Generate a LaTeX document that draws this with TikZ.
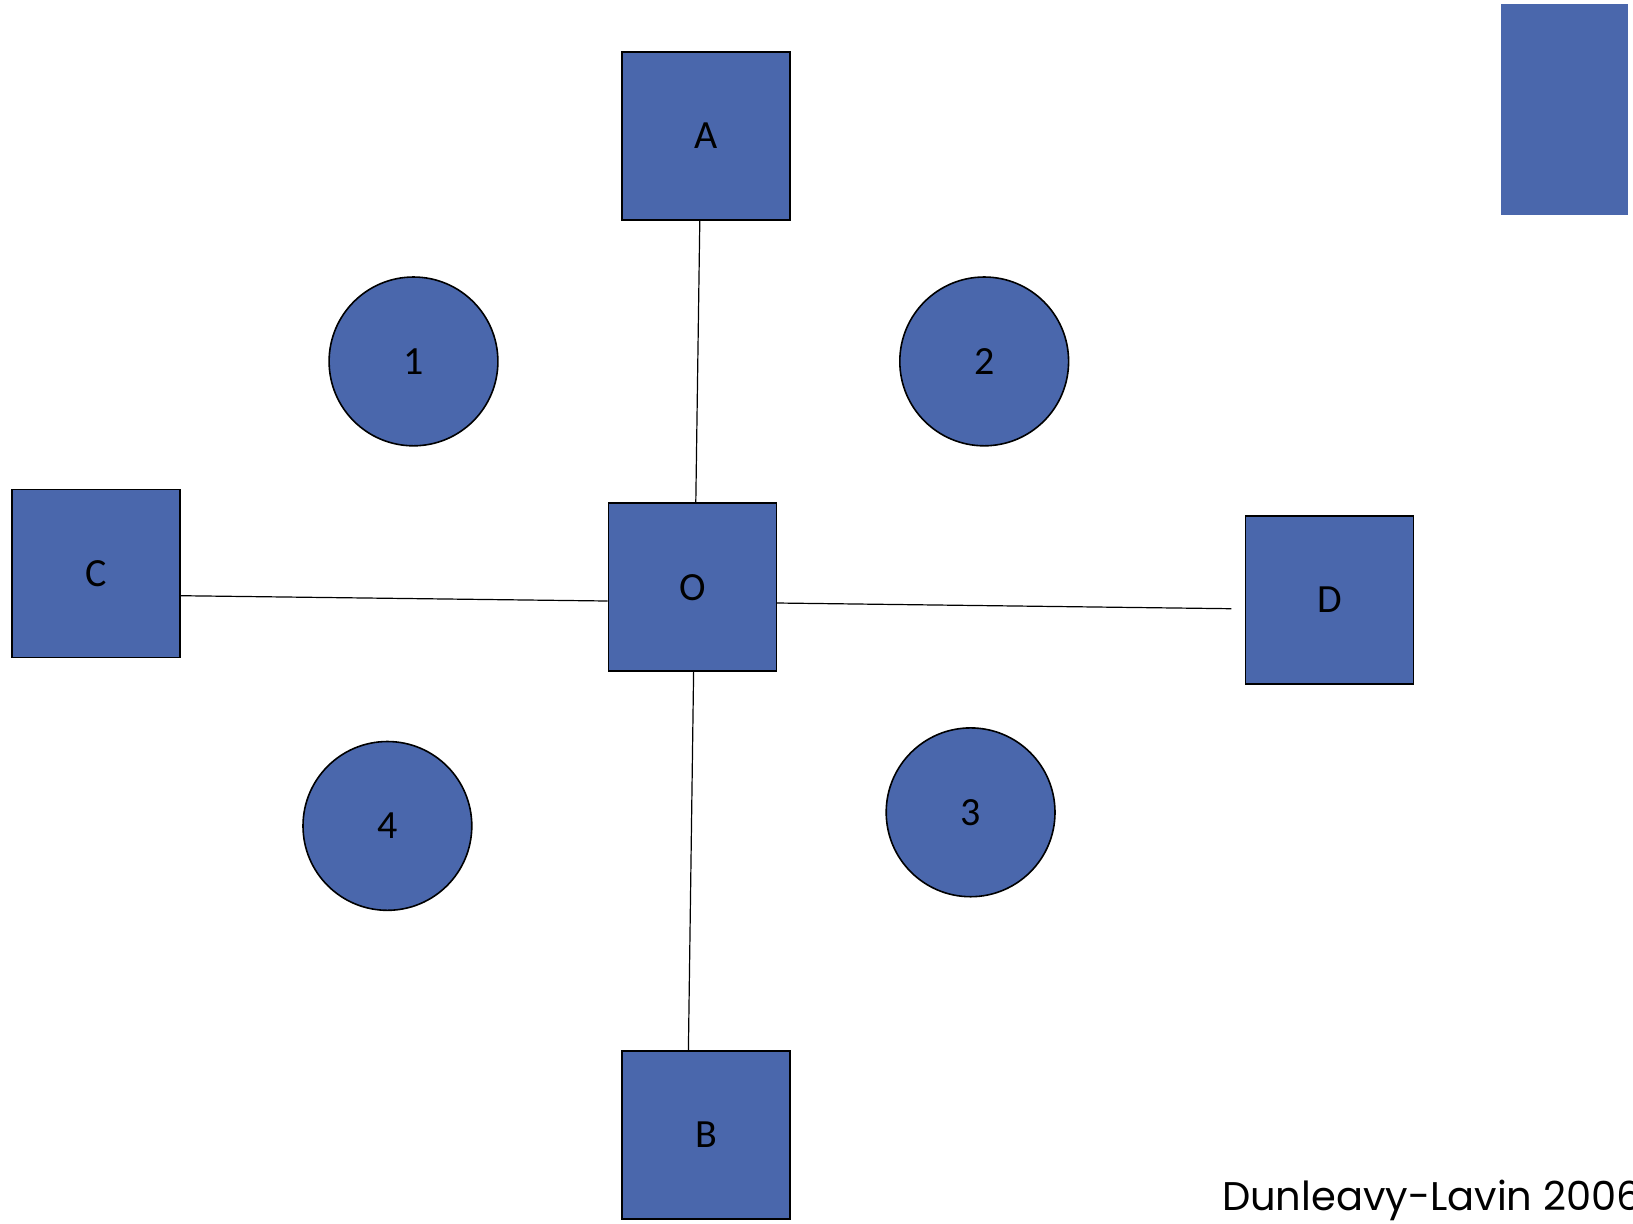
\documentclass[tikz,border=0pt]{standalone}
\usepackage{fontspec}
\setmainfont{Carlito}
\newfontfamily\creditfont{Poppins}
\definecolor{boxblue}{RGB}{74,103,172}
\tikzset{
  sq/.style={draw=black, line width=0.8pt, fill=boxblue, minimum size=84pt, inner sep=0pt, font=\fontsize{20}{24}\selectfont},
  circ/.style={circle, draw=black, line width=0.8pt, fill=boxblue, minimum size=84.4pt, inner sep=0pt, font=\fontsize{20}{24}\selectfont},
  conn/.style={draw=black, line width=0.6pt}
}
\begin{document}
\begin{tikzpicture}[x=0.5pt, y=-0.5pt]
\useasboundingbox (0,0) rectangle (1633,1223);
\node[sq] (A) at (706.1,135.9) {A};
\node[sq] (O) at (692.4,587.2) {O};
\node[sq] (C) at (95.9,573.4) {C};
\node[sq] (D) at (1329.5,600) {D};
\node[sq] (B) at (706.1,1134.7) {B};
\node[circ] (n1) at (413.5,361.4) {1};
\node[circ] (n2) at (984.2,361.4) {2};
\node[circ] (n3) at (970.6,812.3) {3};
\node[circ] (n4) at (387.4,825.9) {4};
\fill[boxblue] (1501,4) rectangle (1628,215);
\coordinate (Dend) at ([xshift=-6.7pt, yshift=-4.35pt]D.west);
\draw[conn] ([xshift=-3.15pt]A.south) -- ([xshift=1.7pt]O.north);
\draw[conn] ([xshift=0.6pt]O.south) -- ([xshift=-8.85pt]B.north);
\draw[conn] ([yshift=-11.15pt]C.east) -- ([yshift=-6.9pt]O.west);
\draw[conn] ([yshift=-7.9pt]O.east) -- (Dend);
\node[anchor=base west, inner sep=0pt, font=\creditfont\fontsize{20}{24}\selectfont] (credit) at (1221.7,1210) {Dunleavy-Lavin 2006};
\end{tikzpicture}
\end{document}
